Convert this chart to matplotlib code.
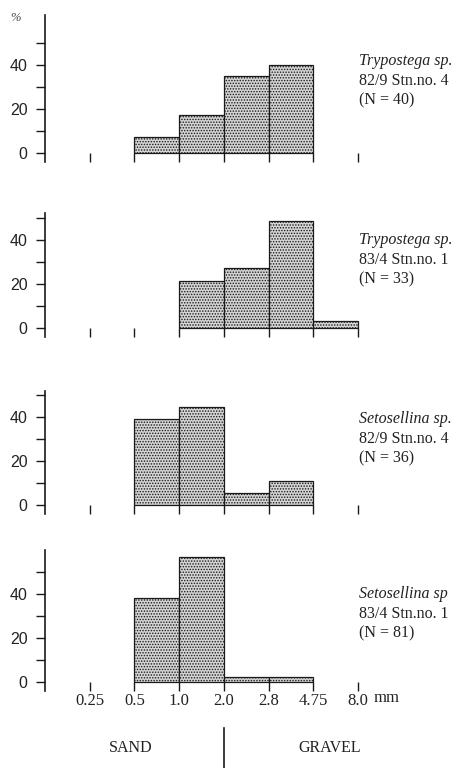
import matplotlib
matplotlib.use('Agg')

import matplotlib.pyplot as plt
from matplotlib.lines import Line2D
import matplotlib.transforms as mtransforms

plt.rcParams['hatch.linewidth'] = 0.7
plt.rcParams['hatch.color'] = '#333333'

# sieve classes (mm) and % of colonies per class
sizes = ["0.25", "0.5", "1.0", "2.0", "2.8", "4.75", "8.0"]
bins = ["0.25-0.5", "0.5-1.0", "1.0-2.0", "2.0-2.8", "2.8-4.75", "4.75-8.0"]

tryp_82 = [0, 7.5, 17.5, 35.0, 40.0, 0]
tryp_83 = [0, 0, 21.2, 27.3, 48.5, 3.0]
seto_82 = [0, 38.9, 44.4, 5.6, 11.1, 0]
seto_83 = [0, 38.3, 56.8, 2.5, 2.5, 0]

species = ["Trypostega sp.", "Trypostega sp.", "Setosellina sp.", "Setosellina sp"]
stations = ["82/9 Stn.no. 4", "83/4 Stn.no. 1", "82/9 Stn.no. 4", "83/4 Stn.no. 1"]
counts = ["(N = 40)", "(N = 33)", "(N = 36)", "(N = 81)"]
series = [tryp_82, tryp_83, seto_82, seto_83]

# layout in pixels (image is 469 x 768)
W, H = 469.0, 768.0
zero_px = [153, 328, 505, 682]
ytop = [62.7, 52.3, 52.0, 60.0]
ymax_tick = [60, 50, 50, 50]
text_y = [42, 40, 39, 40]
px_per_pct = 2.2
px_per_step = 44.7
left_px = 45
ymin = -4

fig = plt.figure(figsize=(W / 100, H / 100), dpi=100)
serif = "Liberation Serif"
sans = "Liberation Sans"

axes = []
for i, vals in enumerate(series):
    top = zero_px[i] - ytop[i] * px_per_pct
    bot = zero_px[i] - ymin * px_per_pct
    ax = fig.add_axes([left_px / W, 1 - bot / H, 7.5 * px_per_step / W, (bot - top) / H])
    axes.append(ax)

    # only the classes that hold colonies get a bar
    xs = [k + 1 for k, v in enumerate(vals) if v > 0]
    hs = [v for v in vals if v > 0]
    ax.bar(xs, hs, width=1, align='edge', facecolor='#d4d4d4',
           edgecolor='#1a1a1a', linewidth=0.9, hatch='......')

    ax.set_xlim(0, 7.5)
    ax.set_ylim(ymin, ytop[i])

    for s in ['top', 'right']:
        ax.spines[s].set_visible(False)
    ax.spines['bottom'].set_position(('data', 0))
    ax.spines['bottom'].set_color('none')
    ax.spines['left'].set_linewidth(1.2)
    ax.spines['left'].set_color('#1a1a1a')

    ax.set_xticks(range(1, len(sizes) + 1))
    ax.tick_params(axis='x', direction='out', length=6.5, width=1.0, color='#1a1a1a', pad=1.5)
    if i < 3:
        ax.set_xticklabels([])
    else:
        ax.set_xticklabels(sizes, fontfamily=serif, fontsize=12, color='#222222')

    ax.set_yticks([0, 20, 40])
    ax.set_yticks(list(range(10, ymax_tick[i] + 1, 20)), minor=True)
    ax.set_yticklabels(["0", "20", "40"], fontfamily=sans, fontsize=11.5, color='#222222')
    ax.tick_params(axis='y', which='both', direction='out', length=6.5, width=1.0,
                   color='#1a1a1a', pad=6)

    ax.annotate(species[i], xy=(7.02, text_y[i]), fontfamily=serif, style='italic',
                fontsize=11.5, va='center', ha='left', color='#222222', annotation_clip=False)
    ax.annotate(stations[i], xy=(7.02, text_y[i]), xytext=(0, -14.5), textcoords='offset points',
                fontfamily=serif, fontsize=11.5, va='center', ha='left', color='#222222',
                annotation_clip=False)
    ax.annotate(counts[i], xy=(7.02, text_y[i]), xytext=(0, -28.5), textcoords='offset points',
                fontfamily=serif, fontsize=11.5, va='center', ha='left', color='#222222',
                annotation_clip=False)

axes[0].annotate("%", xy=(0, ytop[0]), xytext=(-21, -2), textcoords='offset points',
                 fontfamily=serif, style='italic', fontsize=9, color='#444444',
                 va='center', ha='center', annotation_clip=False)

ax4 = axes[3]
ax4.text(7.65, -7.4, "mm", fontfamily=serif, fontsize=12, color='#222222',
         ha='center', va='center', clip_on=False)

# SAND / GRAVEL boundary at 2.0 mm
trans = mtransforms.blended_transform_factory(ax4.transData, fig.transFigure)
fig.add_artist(Line2D([4, 4], [0, 1 - 728 / H], transform=trans, color='#1a1a1a', linewidth=1.2))
fig.text(131 / W, 1 - 748 / H, "SAND", fontfamily=serif, fontsize=11.5, ha='center', va='center',
         color='#222222')
fig.text(330 / W, 1 - 748 / H, "GRAVEL", fontfamily=serif, fontsize=11.5, ha='center', va='center',
         color='#222222')

fig.savefig("out.png", dpi=100)
plt.close(fig)
